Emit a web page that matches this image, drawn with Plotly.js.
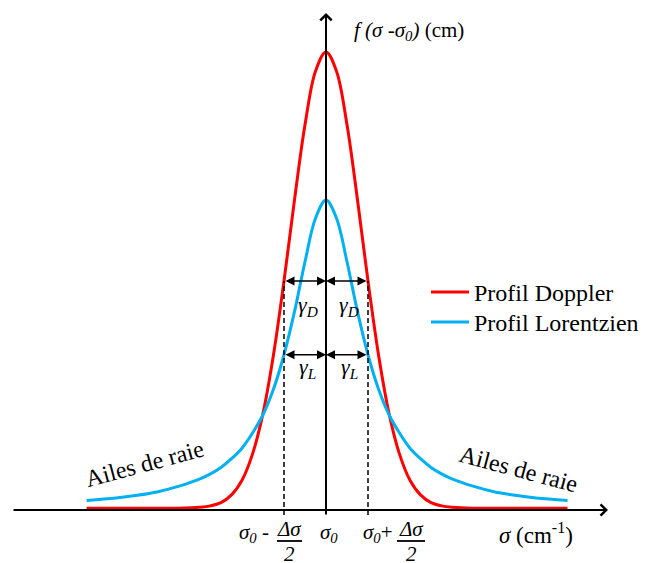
<!DOCTYPE html>
<html>
<head>
<meta charset="utf-8">
<script src="https://cdn.plot.ly/plotly-3.0.1.min.js"></script>
<style>html,body{margin:0;padding:0;background:#fff}#plot{width:647px;height:563px}</style>
</head>
<body>
<div id="plot"></div>
<script>
// Abscissa in units of the half-width (gamma), ordinate normalised to Doppler peak
const xDoppler = [-5.7,-5,-4.5,-4,-3.5,-3,-2.75,-2.5,-2.25,-2,-1.75,-1.5,-1.25,-1,-0.75,-0.5,-0.25,0,0.25,0.5,0.75,1,1.25,1.5,1.75,2,2.25,2.5,2.75,3,3.5,4,4.5,5,5.75];
const yDoppler = [0.004,0.004,0.004,0.004,0.004,0.006,0.009,0.016,0.033,0.065,0.122,0.211,0.339,0.5,0.677,0.841,0.958,1.0,0.958,0.841,0.677,0.5,0.339,0.211,0.122,0.065,0.033,0.016,0.009,0.006,0.004,0.004,0.004,0.004,0.004];
const xLorentz = [-5.7,-5,-4.5,-4,-3.5,-3,-2.75,-2.5,-2.25,-2,-1.75,-1.5,-1.25,-1,-0.75,-0.5,-0.25,0,0.25,0.5,0.75,1,1.25,1.5,1.75,2,2.25,2.5,2.75,3,3.5,4,4.5,5,5.75];
const yLorentz = [0.021,0.026,0.032,0.040,0.052,0.068,0.079,0.093,0.112,0.135,0.168,0.208,0.264,0.339,0.433,0.542,0.637,0.677,0.637,0.542,0.433,0.339,0.264,0.208,0.168,0.135,0.112,0.093,0.079,0.068,0.052,0.040,0.032,0.026,0.021];
const seriesNames = ['Profil Doppler','Profil Lorentzien'];
const halfWidth = 1;        // gamma_D = gamma_L
const halfMaxD = 0.5;       // level of the gamma_D arrows
const halfMaxL = 0.339;     // level of the gamma_L arrows

const W = 647, H = 563;
const X0 = 326, XS = 42, Y0 = 510, YS = 458;
const xd = p => (p - X0) / XS;
const yd = p => (Y0 - p) / YS;
const pxp = p => p / W;
const pyp = p => 1 - p / H;
const FONT = 'Liberation Serif';

const data = [
  {x: xDoppler, y: yDoppler, name: seriesNames[0], legend: 'legend', mode: 'lines', line: {color: '#ff0000', width: 3, shape: 'spline', smoothing: 1}},
  {x: xLorentz, y: yLorentz, name: seriesNames[1], legend: 'legend2', mode: 'lines', line: {color: '#00b0f0', width: 3, shape: 'spline', smoothing: 1}}
];

const shapes = [
  // dashed guides
  {type: 'line', xref: 'x', yref: 'y', x0: -halfWidth, x1: -halfWidth, y0: yd(515), y1: halfMaxD, line: {color: 'black', width: 1.5, dash: '5px,3px'}},
  {type: 'line', xref: 'x', yref: 'y', x0: halfWidth, x1: halfWidth, y0: yd(515), y1: halfMaxD, line: {color: 'black', width: 1.5, dash: '5px,3px'}},
  // fraction bars
  {type: 'line', xref: 'x', yref: 'y', layer: 'above', x0: xd(277), x1: xd(302), y0: yd(541), y1: yd(541), line: {color: 'black', width: 1.8}},
  {type: 'line', xref: 'x', yref: 'y', layer: 'above', x0: xd(397), x1: xd(425), y0: yd(541), y1: yd(541), line: {color: 'black', width: 1.8}}
];

function arrow(x, y, ax, ay, opts) {
  return Object.assign({xref: 'x', yref: 'y', axref: 'x', ayref: 'y', x: x, y: y, ax: ax, ay: ay, text: '', showarrow: true,
    arrowcolor: 'black', standoff: 0, startstandoff: 0}, opts);
}
function txt(text, x, y, size, extra) {
  return Object.assign({xref: 'paper', yref: 'paper', x: pxp(x), y: pyp(y), text: text, showarrow: false,
    xanchor: 'center', yanchor: 'middle', font: {family: FONT, size: size, color: 'black'}}, extra || {});
}

const annotations = [
  // axes with open arrowheads
  arrow(xd(608), 0, xd(12), 0, {arrowhead: 4, arrowsize: 1.1, arrowwidth: 2}),
  arrow(0, yd(13), 0, yd(516), {arrowhead: 4, arrowsize: 1.1, arrowwidth: 2}),
  // half-width arrows
  arrow(0, halfMaxD, -halfWidth, halfMaxD, {arrowside: 'end+start', arrowhead: 2, startarrowhead: 2, arrowsize: 1.2, startarrowsize: 1.2, arrowwidth: 1.5}),
  arrow(0, halfMaxD, halfWidth, halfMaxD, {arrowside: 'end+start', arrowhead: 2, startarrowhead: 2, arrowsize: 1.2, startarrowsize: 1.2, arrowwidth: 1.5}),
  arrow(0, halfMaxL, -halfWidth, halfMaxL, {arrowside: 'end+start', arrowhead: 2, startarrowhead: 2, arrowsize: 1.2, startarrowsize: 1.2, arrowwidth: 1.5}),
  arrow(0, halfMaxL, halfWidth, halfMaxL, {arrowside: 'end+start', arrowhead: 2, startarrowhead: 2, arrowsize: 1.2, startarrowsize: 1.2, arrowwidth: 1.5}),
  // gamma labels
  txt('<i>γ<sub>D</sub></i>', 308, 306, 22),
  txt('<i>γ<sub>D</sub></i>', 349, 306, 22),
  txt('<i>γ<sub>L</sub></i>', 307, 368, 22),
  txt('<i>γ<sub>L</sub></i>', 349, 368, 22),
  // axis titles
  txt('<i>f (σ -σ<sub>0</sub>)</i> (cm)', 352, 31, 21, {xanchor: 'left'}),
  txt('<i>σ</i> (cm<sup>-1</sup>)', 497, 533, 23, {xanchor: 'left'}),
  // tick labels
  txt('<i>σ<sub>0</sub></i> -', 237, 533, 21, {xanchor: 'left'}),
  txt('<i>Δσ</i>', 289, 529, 21),
  txt('<i>2</i>', 289, 554, 21),
  txt('<i>σ<sub>0</sub></i>', 329, 533, 21),
  txt('<i>σ<sub>0</sub></i>+', 361, 533, 21, {xanchor: 'left'}),
  txt('<i>Δσ</i>', 411, 529, 21),
  txt('<i>2</i>', 411, 554, 21),
  // wings
  txt('Ailes de raie', 144, 464, 24, {textangle: -15}),
  txt('Ailes de raie', 518, 469, 24, {textangle: 15})
];

const legendStyle = {xanchor: 'left', yanchor: 'top', bgcolor: 'rgba(0,0,0,0)',
  font: {family: FONT, size: 24, color: 'black'}, itemwidth: 38, tracegroupgap: 0};

const layout = {
  width: W, height: H, autosize: false,
  font: {family: FONT, color: 'black'},
  margin: {l: 0, r: 0, t: 0, b: 0, pad: 0},
  paper_bgcolor: 'white', plot_bgcolor: 'white',
  xaxis: {range: [xd(0), xd(W)], visible: false, fixedrange: true},
  yaxis: {range: [yd(H), yd(0)], visible: false, fixedrange: true},
  showlegend: true,
  legend: Object.assign({x: pxp(426), y: pyp(270)}, legendStyle),
  legend2: Object.assign({x: pxp(426), y: pyp(300)}, legendStyle),
  shapes: shapes,
  annotations: annotations
};

Plotly.newPlot('plot', data, layout, {displayModeBar: false, staticPlot: true});
</script>
</body>
</html>
